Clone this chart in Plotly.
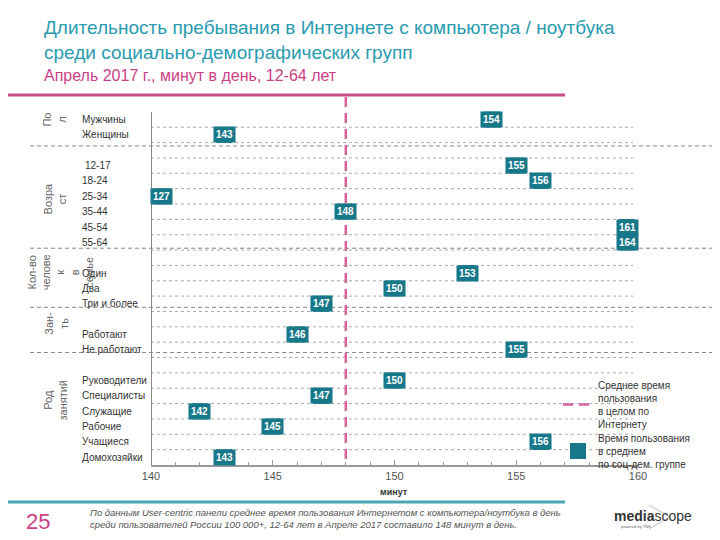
import plotly.graph_objects as go

# ---------------- data ----------------
categories = ["Мужчины", "Женщины", "",
              "12-17", "18-24", "25-34", "35-44", "45-54", "55-64", "",
              "Один", "Два", "Три и более", "",
              "Работают", "Не работают", "",
              "Руководители", "Специалисты", "Служащие", "Рабочие", "Учащиеся", "Домохозяйки"]
values = [154, 143, None,
          155, 156, 127, 148, 161, 164, None,
          153, 150, 147, None,
          146, 155, None,
          150, 147, 142, 145, 156, 143]
groups = ["По<br>л", "Возра<br>ст", "Кол-во<br>челове<br>к<br>в<br>семье", "Зан-<br>ть", "Род<br>занятий"]
group_rows = [0.0, 5.2, 9.95, 13.3, 18.3]
average = 148
x_ticks = [140, 145, 150, 155, 160]
x_min, x_max = 140, 160

TEAL = "#17788a"
PINK = "#d9609b"
FONT = "Liberation Sans, Arial, sans-serif"

# page has an 8px body margin: figure is 712x532, placed at (8, 8)
W, H = 712, 532
L, R, T, B = 143, 82, 89, 75
PW, PH = W - L - R, H - T - B
PLOT_LEFT, PLOT_BOTTOM = 151, 465  # screen pixels


def pxx(x):
    return (x - PLOT_LEFT) / PW


def pxy(y):
    return (PLOT_BOTTOM - y) / PH


rows = list(range(len(categories)))
pts = [(r, v) for r, v in zip(rows, values) if v is not None]
ys = [r for r, v in pts]
vals = [v for r, v in pts]
xs = [min(max(v, x_min + 0.45), x_max - 0.45) for v in vals]

fig = go.Figure()

# average line
fig.add_trace(go.Scatter(
    x=[average, average], y=[-1.47, 22.5], mode="lines",
    line=dict(color=PINK, width=2.5, dash="10px,6px"),
    name="Среднее время<br>пользования<br>в целом по<br>Интернету",
    legend="legend", hoverinfo="skip"))

# group values
fig.add_trace(go.Scatter(
    x=xs, y=ys, mode="markers",
    marker=dict(symbol="square", size=16, color=TEAL),
    name="Время пользования<br>в среднем<br>по соц-дем. группе",
    legend="legend2", cliponaxis=False))

annotations = []
for x, y, v in zip(xs, ys, vals):
    annotations.append(dict(x=x, y=y, xref="x", yref="y", text="<b>%d</b>" % v,
                            showarrow=False, bgcolor=TEAL, borderpad=2,
                            xanchor="center", yanchor="middle",
                            font=dict(color="white", size=10, family=FONT)))

# category labels
for r, c in zip(rows, categories):
    if c:
        annotations.append(dict(x=pxx(83 if c == "12-17" else 80), y=r, xref="paper", yref="y",
                                text=c, showarrow=False, xanchor="left", yanchor="middle",
                                font=dict(size=10, color="#333", family=FONT)))

# group labels
group_x = [54, 55, 60, 56, 55]
for g, gr, gx in zip(groups, group_rows, group_x):
    annotations.append(dict(x=pxx(gx), y=gr, xref="paper", yref="y", text=g,
                            showarrow=False, textangle=-90, xanchor="center", yanchor="middle",
                            font=dict(size=11, color="#666", family=FONT)))

# title & footer
annotations += [
    dict(x=pxx(42), y=pxy(40), xref="paper", yref="paper", xanchor="left", yanchor="middle",
         align="left", showarrow=False,
         text="Длительность пребывания в Интернете с компьютера / ноутбука<br>среди социально-демографических групп",
         font=dict(size=19, color="#2a9bb0", family=FONT)),
    dict(x=pxx(42), y=pxy(75), xref="paper", yref="paper", xanchor="left", yanchor="middle",
         showarrow=False, text="Апрель 2017 г., минут в день, 12-64 лет",
         font=dict(size=16, color="#cc3f86", family=FONT)),
    dict(x=pxx(394), y=pxy(492), xref="paper", yref="paper", showarrow=False,
         xanchor="center", yanchor="middle",
         text="<b>минут</b>", font=dict(size=9, color="#333", family=FONT)),
    dict(x=pxx(38), y=pxy(521), xref="paper", yref="paper", showarrow=False,
         xanchor="center", yanchor="middle",
         text="25", font=dict(size=22, color="#cc3f86", family=FONT)),
    dict(x=pxx(88), y=pxy(518), xref="paper", yref="paper", xanchor="left", yanchor="middle",
         align="left", showarrow=False,
         text="<i>По данным User-centric панели среднее время пользования Интернетом с компьютера/ноутбука в день<br>среди пользователей России 100 000+, 12-64 лет в Апреле 2017 составило 148 минут в день.</i>",
         font=dict(size=9.5, color="#555", family=FONT)),
    dict(x=pxx(653), y=pxy(516), xref="paper", yref="paper", showarrow=False,
         xanchor="center", yanchor="middle",
         text="<b>media</b>scope", font=dict(size=14, color="#333", family=FONT)),
    dict(x=pxx(619), y=pxy(526), xref="paper", yref="paper", xanchor="left", yanchor="middle",
         showarrow=False,
         text="powered by TNS", font=dict(size=4, color="#666", family=FONT)),
]

shapes = []
# dotted row gridlines
for k in range(len(categories) - 1):
    shapes.append(dict(type="line", xref="x", yref="y", x0=x_min, x1=x_max - 0.2,
                       y0=k + 0.5, y1=k + 0.5, layer="below",
                       line=dict(color="#aaa", width=1, dash="dot")))
# section separators
for sy in [1.72, 8.38, 12.23, 15.17]:
    shapes.append(dict(type="line", xref="paper", yref="y", x0=pxx(30), x1=pxx(718),
                       y0=sy, y1=sy, layer="below",
                       line=dict(color="#888", width=1, dash="4px,3px")))
# left axis line
shapes.append(dict(type="line", xref="x", yref="y", x0=x_min, x1=x_min, y0=-0.5, y1=22.5,
                   line=dict(color="#888", width=2)))
# title and footer rules
shapes.append(dict(type="line", xref="paper", yref="paper", x0=pxx(8), x1=pxx(565),
                   y0=pxy(95), y1=pxy(95), line=dict(color="#c8508a", width=3)))
shapes.append(dict(type="line", xref="paper", yref="paper", x0=pxx(8), x1=pxx(565),
                   y0=pxy(502), y1=pxy(502), line=dict(color="#4aa6b0", width=3)))
# logo triangle
shapes.append(dict(type="path", xref="paper", yref="paper",
                   path="M %f,%f L %f,%f L %f,%f" % (pxx(649), pxy(505), pxx(670), pxy(517), pxx(649), pxy(529)),
                   line=dict(color="#bbb", width=1)))

legend_common = dict(xanchor="left", yanchor="top", bgcolor="rgba(0,0,0,0)",
                     font=dict(size=10, color="#333", family=FONT),
                     tracegroupgap=0, itemwidth=30)

fig.update_layout(
    width=W, height=H,
    margin=dict(l=L, r=R, t=T, b=B),
    paper_bgcolor="white", plot_bgcolor="white",
    font=dict(family=FONT, color="#333"),
    showlegend=True,
    legend=dict(x=pxx(558), y=pxy(372), **legend_common),
    legend2=dict(x=pxx(558), y=pxy(425), **legend_common),
    xaxis=dict(range=[x_min, x_max], tickvals=x_ticks, showgrid=False, zeroline=False,
               showline=True, linecolor="#999", linewidth=1.5, ticks="inside", ticklen=5,
               tickcolor="#999", tickfont=dict(size=11, color="#555"),
               minor=dict(dtick=1, ticks="inside", ticklen=3, tickcolor="#999")),
    yaxis=dict(range=[22.5, -1.47], showticklabels=False, showgrid=False, zeroline=False,
               showline=False),
    annotations=annotations,
    shapes=shapes,
)

fig.write_html("out.html")
